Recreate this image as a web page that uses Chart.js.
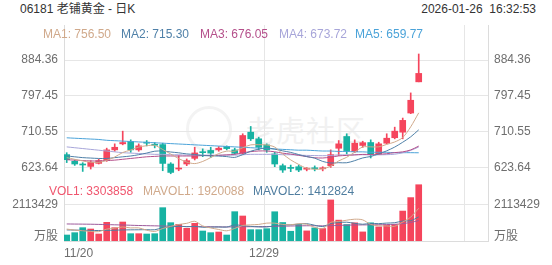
<!DOCTYPE html>
<html><head><meta charset="utf-8">
<script src="https://cdn.jsdelivr.net/npm/chart.js@4/dist/chart.umd.min.js"></script>
<style>
html,body{margin:0;padding:0;background:#fff;}
#wrap{position:relative;width:552px;height:265px;overflow:hidden;font-family:"Liberation Sans",Arial,"Noto Sans CJK SC",sans-serif;font-size:12px;}
.t{position:absolute;white-space:pre;line-height:14px;font-size:12px;}
canvas{position:absolute;left:0;}
#wm{position:absolute;left:246px;top:112px;font-size:29px;line-height:34px;color:#f1f1f1;letter-spacing:1px;font-family:"Noto Sans CJK SC",sans-serif;}
#wmc{position:absolute;left:186px;top:106px;width:40px;height:40px;border:3px solid #f3f3f3;border-radius:50%;}
</style></head><body>
<div id="wrap">
  <div id="wmc"></div>
  <div id="wm">老虎社区</div>
  <canvas id="main" width="552" height="150" style="top:25px;width:552px;height:150px"></canvas>
  <canvas id="vol" width="552" height="90" style="top:175px;width:552px;height:90px"></canvas>
  <div class="t" style="left:20px;top:2px;color:#333">06181 老铺黄金 - 日K</div>
  <div class="t" style="right:16px;top:2px;color:#333">2026-01-26  16:32:53</div>
  <div id="maLegend"></div>
  <div id="volLegend"></div>
</div>
<script>
// ---- data ----
const dates = ['11/20','11/21','11/24','11/25','11/26','11/27','11/28','12/01','12/02','12/03','12/04','12/05','12/08','12/09','12/10','12/11','12/12','12/15','12/16','12/17','12/18','12/19','12/22','12/23','12/24','12/29','12/30','12/31','01/02','01/05','01/06','01/07','01/08','01/09','01/12','01/13','01/14','01/15','01/16','01/19','01/20','01/21','01/22','01/23','01/26'];
const open  = [655.3,639.0,632.6,626.8,634.1,640.7,666.8,681.4,687.0,666.8,684.5,679.0,679.6,632.6,620.4,632.6,646.3,661.5,665.4,666.8,674.8,666.8,658.5,709.6,693.6,678.9,657.0,628.5,623.0,626.0,620.0,622.0,621.0,628.5,670.7,699.2,662.6,677.5,684.6,657.0,682.9,696.2,709.6,756.0,831.5];
const high  = [660.0,642.4,635.8,640.7,643.9,671.0,681.4,712.1,691.1,681.4,689.4,684.6,683.0,635.8,652.9,644.8,673.1,669.2,673.1,674.8,676.5,671.0,705.8,723.5,697.5,681.4,660.9,632.6,630.0,630.0,624.0,628.0,626.0,666.8,689.4,705.8,691.0,687.7,691.1,685.3,705.8,721.8,743.8,804.7,898.9];
const low   = [636.0,629.2,614.6,620.4,632.6,639.0,663.4,679.0,660.9,663.4,676.5,671.6,616.3,609.0,616.3,628.5,642.4,650.4,648.7,663.4,666.8,656.0,657.0,689.4,666.8,660.9,626.1,612.2,614.0,614.0,616.0,616.0,616.0,624.4,652.9,657.0,660.2,673.0,647.2,655.3,681.4,693.5,693.5,754.5,831.5];
const close = [643.1,632.6,630.2,636.6,640.7,666.8,673.1,684.6,666.8,676.5,683.0,678.0,634.0,612.2,621.5,640.7,659.4,660.0,658.9,670.7,669.9,658.5,701.6,693.6,673.1,666.8,632.6,618.0,622.0,618.0,621.0,621.0,622.0,655.3,681.4,665.0,682.9,684.2,657.0,681.4,695.0,712.1,738.2,786.9,851.9];
const ma1 = [648,644,640,637,636.6,641.4,649.5,660.4,666.4,673.6,676.8,677.8,667.7,656.7,645.7,637.3,633.6,638.8,648.1,657.9,663.8,663.6,671.9,678.9,679.3,678.7,673.5,656.8,642.5,631.5,622.3,620.0,620.8,627.5,640.1,648.9,661.3,673.8,674.1,674.1,680.1,685.9,696.7,722.7,756.50];
const ma2 = [652,650,648,647,646,646,648,650,652,655.1,659.1,663.6,664.0,661.6,659.7,657.0,655.7,653.2,652.4,651.8,650.5,648.6,655.3,663.5,668.6,671.3,668.6,664.4,660.7,655.4,650.5,646.8,638.8,635.0,635.8,635.6,640.7,647.3,650.8,657.1,664.5,673.6,685.3,698.4,715.30];
const ma3 = [643,642,641,640,640,641,642,644,646,648,650,651,652,652,652,652,652,653,653,653.5,654.8,656.1,659.7,662.5,664.1,664.1,662.1,658.8,656.6,653.6,650.5,647.7,647.1,649.2,652.2,653.4,654.6,655.8,655.7,656.3,657.5,660.2,662.0,666.7,676.05];
const ma4 = [674,672,670,668,666,664,662,660,659,658,657,656,656,655,655,654,654,654,654,654,654,654,655,656,656,656,656,655,655,654.1,653.4,653.0,652.7,653.3,654.7,654.6,655.0,655.0,654.6,654.8,655.2,656.3,659.8,665.6,673.72];
const ma5 = [696,695,694,693,692,690,689,688,687,686,685,684,683,682,681,680,679,678,677,676,675,674,673,672,671,670,669,668,667,666,666,665,664,664,663,663,662,662,661,661,661,660,660,660,659.77];
const volume = [352000,489000,783000,704000,411000,1096000,783000,1115000,430000,430000,411000,430000,1957000,1076000,978000,744000,1037000,587000,489000,528000,352000,1722000,1468000,665000,665000,724000,1718000,1086000,573000,968000,593000,770000,731000,2410000,1225000,968000,1067000,533000,1067000,830000,928000,968000,1758000,2548000,3303858];
const mavol1 = [700000,640000,600000,560000,548000,697000,755000,822000,767000,771000,634000,563000,732000,861000,970000,1037000,1158000,884000,767000,677000,599000,736000,912000,947000,974000,1049000,1048000,972000,953000,1014000,988000,798000,727000,1094000,1146000,1221000,1280000,1241000,972000,893000,885000,865000,1110000,1406000,1920088];
const mavol2 = [650000,640000,630000,620000,615000,620000,630000,650000,655000,659000,665000,659000,777000,814000,871000,835000,861000,808000,814000,824000,818000,947000,898000,857000,826000,824000,892000,942000,950000,994000,1018000,923000,849000,1024000,1080000,1104000,1039000,984000,1033000,1019000,1053000,1073000,1175000,1189000,1412824];
const mavol3 = [1000000,995000,990000,985000,975000,965000,950000,940000,925000,910000,900000,890000,880000,870000,860000,850000,845000,840000,835000,830000,825000,830000,835000,840000,845000,850000,860000,870000,880000,890000,895000,895000,890000,900000,915000,930000,940000,945000,950000,955000,965000,980000,1020000,1090000,1200000];
const priceTicks = [623.64, 710.55, 797.45, 884.36];
const volTicks = [2113429];
const volUnitLabel = '万股';
const xLabelDates = ['11/20', '12/29'];

// ---- style / layout ----
const UP = '#f5455c', DOWN = '#17b2a2';
const maColors = ['#d0a98b', '#4f80a8', '#b5508b', '#a7a5d9', '#4ba3d9'];
const mavColors = ['#d0a98b', '#4f7d9f', '#9d5a9b'];
const GRID = '#e6e6e6', BORDER = '#dcdcdc', TICK = '#6e6e6e';
const FONT = {family: '"Liberation Sans", Arial, "Noto Sans CJK SC", sans-serif', size: 12};
const SLOTS = 53, X_MIN = -0.34, X_MAX = X_MIN + SLOTS;
const Y_MIN = 605.97, Y_MAX = 969.1;      // price range of the panel
const V_MAX = 3874596;                      // volume range of the panel
const V_UNIT_POS = 252000;                  // where the unit label sits

const idx = dates.map((d, i) => i);
const colors = idx.map(i => close[i] >= open[i] ? UP : DOWN);
const pts = arr => arr.map((v, i) => ({x: i, y: v}));

function zeroFit(w, h) {
  return s => {
    if (w !== undefined) s.width = w;
    if (h !== undefined) s.height = h;
    s.paddingTop = 0; s.paddingBottom = 0; s.paddingLeft = 0; s.paddingRight = 0;
  };
}
function xTickList() {
  const labels = [xLabelDates[0], xLabelDates[1], ''];
  return labels.map((l, k) => ({value: X_MIN + 25 * k, label: l}));
}
function xScale(showLabels) {
  const ticks = xTickList();
  return {
    type: 'linear', min: X_MIN, max: X_MAX, offset: false, display: true,
    grid: {color: GRID, drawTicks: false, offset: false},
    border: {display: showLabels, color: BORDER},
    ticks: {display: showLabels, autoSkip: false, maxRotation: 0, align: 'inner', padding: 5, color: TICK, font: FONT,
            callback: (v, i) => ticks[i] ? ticks[i].label : ''},
    afterBuildTicks: s => { s.ticks = ticks.map(t => ({value: t.value})); },
    afterFit: zeroFit(undefined, showLabels ? 24 : 0)
  };
}
function priceAxis(pos) {
  return {
    position: pos, min: Y_MIN, max: Y_MAX,
    grid: {display: pos === 'left', color: GRID, drawTicks: false},
    border: {display: true, color: BORDER},
    ticks: {padding: 6, color: TICK, font: FONT, autoSkip: false, callback: v => Number(v).toFixed(2)},
    afterBuildTicks: s => { s.ticks = priceTicks.map(v => ({value: v})); },
    afterFit: zeroFit(64)
  };
}
function volAxis(pos) {
  return {
    position: pos, min: 0, max: V_MAX,
    grid: {display: pos === 'left', drawTicks: false,
           color: c => (c.tick && volTicks.includes(c.tick.value)) ? GRID : 'rgba(0,0,0,0)'},
    border: {display: true, color: BORDER},
    ticks: {padding: 6, color: TICK, font: FONT, autoSkip: false,
            callback: v => v === V_UNIT_POS ? volUnitLabel : String(v)},
    afterBuildTicks: s => { s.ticks = [V_UNIT_POS].concat(volTicks).map(v => ({value: v})); },
    afterFit: zeroFit(64)
  };
}
const baseOpts = {
  responsive: false, animation: false, devicePixelRatio: 1,
  layout: {padding: 0},
  plugins: {legend: {display: false}, tooltip: {enabled: false}},
  events: []
};
const lineDs = (arr, color) => ({type: 'line', data: pts(arr), borderColor: color, borderWidth: 1,
  pointRadius: 0, tension: 0.3, fill: false, order: 0});

new Chart(document.getElementById('main'), {
  type: 'bar',
  data: {datasets: [
    lineDs(ma1, maColors[0]), lineDs(ma2, maColors[1]), lineDs(ma3, maColors[2]),
    lineDs(ma4, maColors[3]), lineDs(ma5, maColors[4]),
    {type: 'bar', data: idx.map(i => ({x: i, y: [low[i], high[i]]})), backgroundColor: colors,
     barThickness: 1, grouped: false, borderWidth: 0, order: 2},
    {type: 'bar', data: idx.map(i => ({x: i, y: [open[i], close[i]]})), backgroundColor: colors,
     barThickness: 6, minBarLength: 1, grouped: false, borderWidth: 0, order: 1}
  ]},
  options: Object.assign({}, baseOpts, {
    scales: {x: xScale(false), y: priceAxis('left'), y2: priceAxis('right')}
  })
});

new Chart(document.getElementById('vol'), {
  type: 'bar',
  data: {datasets: [
    lineDs(mavol1, mavColors[0]), lineDs(mavol2, mavColors[1]), lineDs(mavol3, mavColors[2]),
    {type: 'bar', data: idx.map(i => ({x: i, y: volume[i]})), backgroundColor: colors,
     barThickness: 6, grouped: false, borderWidth: 0, order: 1}
  ]},
  options: Object.assign({}, baseOpts, {
    scales: {x: xScale(true), y: volAxis('left'), y2: volAxis('right')}
  })
});

// ---- legends (text) ----
const last = a => a[a.length - 1];
const maItems = [['MA1', ma1, 43], ['MA2', ma2, 121], ['MA3', ma3, 200], ['MA4', ma4, 279], ['MA5', ma5, 355]];
const maL = document.getElementById('maLegend');
maItems.forEach((it, k) => {
  const d = document.createElement('div');
  d.className = 't';
  d.style.left = it[2] + 'px'; d.style.top = '27px'; d.style.color = maColors[k];
  d.textContent = it[0] + ': ' + last(it[1]).toFixed(2);
  maL.appendChild(d);
});
const volItems = [['VOL1', volume, 49, '#f0566e'], ['MAVOL1', mavol1, 143, mavColors[0]], ['MAVOL2', mavol2, 253, mavColors[1]]];
const vL = document.getElementById('volLegend');
volItems.forEach(it => {
  const d = document.createElement('div');
  d.className = 't';
  d.style.left = it[2] + 'px'; d.style.top = '184px'; d.style.color = it[3];
  d.textContent = it[0] + ': ' + Math.round(last(it[1]));
  vL.appendChild(d);
});
</script>
</body></html>
